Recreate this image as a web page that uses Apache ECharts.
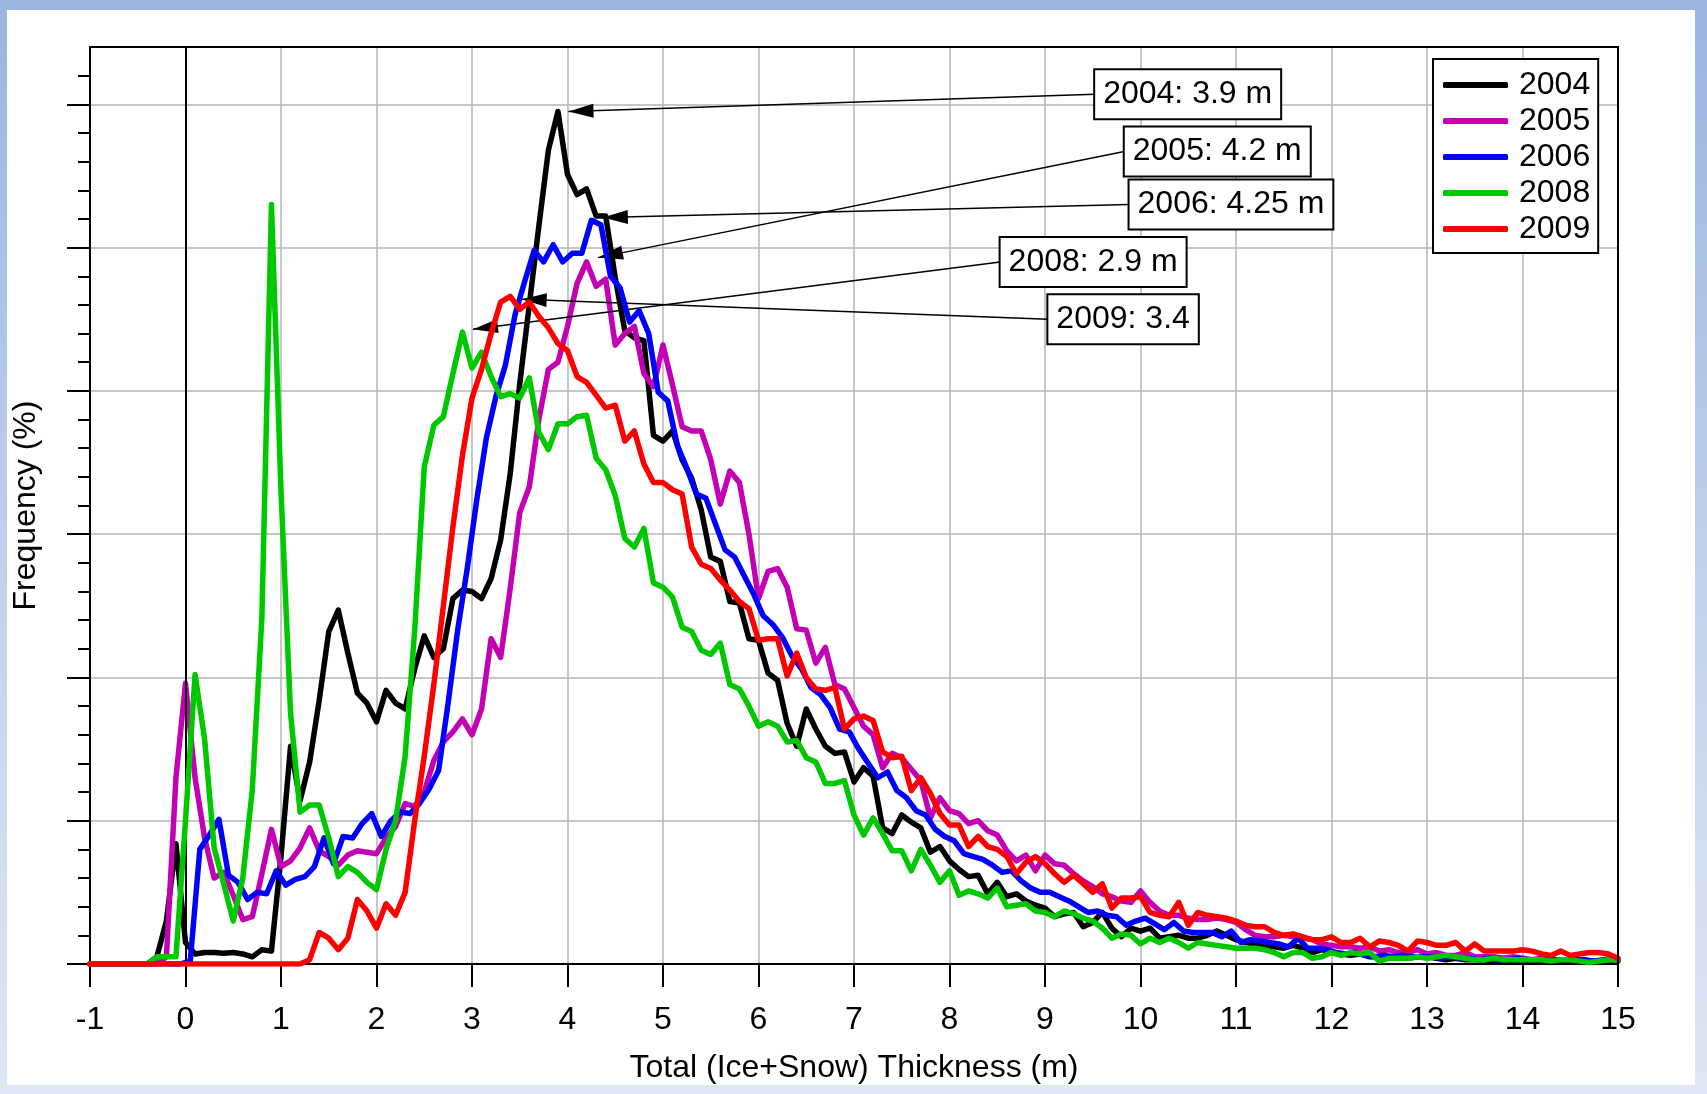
<!DOCTYPE html>
<html><head><meta charset="utf-8">
<script src="https://cdn.jsdelivr.net/npm/echarts@6/dist/echarts.min.js"></script>
<style>
html,body{margin:0;padding:0;}
body{width:1707px;height:1094px;position:relative;overflow:hidden;background:linear-gradient(180deg,#9ab4e0 0%,#bfd0ec 50%,#dfe7f4 100%);}
#panel{position:absolute;left:7px;top:10px;width:1688px;height:1075px;background:#fff;}
#chart{position:absolute;left:0;top:0;width:1707px;height:1094px;}
</style></head><body><div id="panel"></div><div id="chart"></div>
<script>
// ---------------- data ----------------
const years = ['2004', '2005', '2006', '2008', '2009'];
const binStartA = -1.0;   // bin centres for 2004, 2005, 2008, 2009
const binStartB = -0.95;  // bin centres for 2006
const binWidth = 0.1;

const freq2004 = [
 0,0,0,0,0,0,0,0.05,0.3,0.84,
 0.15,0.07,0.08,0.08,0.075,0.08,0.07,0.05,0.1,0.09,
 0.75,1.52,1.14,1.41,1.84,2.32,2.47,2.17,1.89,1.82,
 1.69,1.91,1.82,1.78,2.06,2.29,2.14,2.2,2.55,2.61,
 2.6,2.55,2.69,2.96,3.42,4.05,4.6,5.15,5.68,5.95,
 5.51,5.37,5.41,5.22,5.22,4.79,4.42,4.37,4.35,3.69,
 3.65,3.72,3.52,3.39,3.17,2.84,2.81,2.53,2.52,2.27,
 2.26,2.03,1.98,1.68,1.52,1.78,1.64,1.52,1.47,1.48,
 1.27,1.37,1.31,0.95,0.91,1.04,0.99,0.95,0.78,0.82,
 0.72,0.66,0.61,0.62,0.49,0.57,0.47,0.49,0.44,0.41,
 0.39,0.33,0.35,0.36,0.26,0.29,0.36,0.25,0.19,0.25,
 0.23,0.25,0.18,0.19,0.2,0.18,0.18,0.2,0.23,0.2,
 0.17,0.15,0.14,0.13,0.12,0.11,0.13,0.11,0.08,0.1,
 0.08,0.07,0.06,0.07,0.05,0.05,0.04,0.05,0.04,0.05,
 0.05,0.04,0.03,0.04,0.03,0.03,0.03,0.02,0.03,0.02,
 0.03,0.02,0.02,0.03,0.02,0.02,0.02,0.02,0.02,0.03,
 0.02];

const freq2005 = [
 0,0,0,0,0,0,0,0,0.05,1.3,
 1.96,1.3,0.88,0.6,0.64,0.48,0.31,0.33,0.63,0.94,
 0.68,0.72,0.81,0.95,0.79,0.75,0.69,0.76,0.79,0.78,
 0.77,0.88,0.96,1.12,1.1,1.2,1.42,1.55,1.62,1.71,
 1.6,1.78,2.27,2.14,2.62,3.15,3.33,3.8,4.15,4.2,
 4.45,4.75,4.9,4.73,4.78,4.32,4.4,4.45,4.12,4.03,
 4.32,4.04,3.75,3.72,3.72,3.52,3.21,3.44,3.36,3.0,
 2.55,2.74,2.76,2.63,2.34,2.33,2.1,2.21,1.95,1.92,
 1.79,1.66,1.6,1.37,1.47,1.44,1.36,1.28,1.02,1.16,
 1.07,1.05,0.98,1.0,0.93,0.9,0.79,0.72,0.76,0.65,
 0.76,0.7,0.69,0.63,0.58,0.54,0.49,0.47,0.44,0.43,
 0.51,0.43,0.37,0.34,0.34,0.32,0.31,0.31,0.32,0.31,
 0.29,0.24,0.2,0.19,0.19,0.2,0.19,0.18,0.17,0.14,
 0.13,0.12,0.12,0.11,0.12,0.09,0.1,0.08,0.08,0.1,
 0.07,0.08,0.06,0.06,0.08,0.05,0.05,0.05,0.04,0.05,
 0.04,0.03,0.04,0.03,0.03,0.03,0.03,0.02,0.02,0.03,
 0.02];

const freq2006 = [
 0,0,0,0,0,0,0,0,0,0,
 0.02,0.8,0.9,1.01,0.62,0.57,0.45,0.5,0.49,0.65,
 0.55,0.59,0.61,0.68,0.88,0.7,0.89,0.88,0.98,1.05,
 0.89,1.0,1.06,1.05,1.12,1.22,1.35,1.82,2.33,2.76,
 3.24,3.67,3.96,4.18,4.53,4.76,4.98,4.9,5.02,4.9,
 4.96,4.96,5.19,5.16,4.8,4.72,4.48,4.56,4.4,3.99,
 3.93,3.62,3.46,3.28,3.25,3.07,2.89,2.84,2.71,2.58,
 2.43,2.37,2.28,2.15,2.06,1.93,1.88,1.79,1.64,1.62,
 1.5,1.4,1.3,1.34,1.21,1.16,1.07,1.04,0.94,0.89,
 0.86,0.77,0.75,0.73,0.69,0.64,0.65,0.58,0.53,0.5,
 0.5,0.47,0.44,0.4,0.36,0.37,0.34,0.33,0.27,0.3,
 0.32,0.28,0.24,0.29,0.23,0.22,0.22,0.22,0.19,0.23,
 0.15,0.17,0.16,0.15,0.14,0.12,0.18,0.11,0.11,0.1,
 0.08,0.07,0.08,0.06,0.05,0.06,0.05,0.06,0.05,0.05,
 0.05,0.04,0.05,0.04,0.04,0.03,0.04,0.03,0.03,0.04,
 0.03,0.03,0.04,0.03,0.03,0.03,0.03,0.02,0.03,0.04];

const freq2008 = [
 0,0,0,0,0,0,0,0.05,0.05,0.05,
 1.0,2.02,1.57,0.81,0.56,0.3,0.6,1.22,2.42,5.3,
 3.3,1.75,1.06,1.11,1.11,0.88,0.61,0.68,0.64,0.57,
 0.52,0.8,1.0,1.45,2.33,3.47,3.76,3.82,4.12,4.41,
 4.16,4.27,4.1,3.96,3.98,3.95,4.09,3.71,3.59,3.77,
 3.77,3.82,3.83,3.53,3.45,3.27,2.97,2.91,3.04,2.66,
 2.63,2.56,2.35,2.32,2.19,2.16,2.24,1.95,1.92,1.8,
 1.66,1.69,1.66,1.55,1.56,1.44,1.41,1.26,1.26,1.28,
 1.04,0.9,1.02,0.91,0.79,0.79,0.65,0.8,0.69,0.57,
 0.65,0.48,0.51,0.49,0.46,0.53,0.4,0.41,0.42,0.37,
 0.36,0.33,0.37,0.35,0.32,0.3,0.25,0.18,0.21,0.2,
 0.14,0.18,0.15,0.18,0.15,0.11,0.15,0.14,0.13,0.12,
 0.11,0.11,0.11,0.1,0.08,0.05,0.08,0.08,0.04,0.05,
 0.08,0.06,0.08,0.07,0.08,0.02,0.04,0.04,0.04,0.05,
 0.04,0.05,0.06,0.05,0.04,0.03,0.03,0.04,0.03,0.03,
 0.03,0.03,0.03,0.02,0.03,0.03,0.02,0.01,0.02,0.03,
 0.03];

const freq2009 = [
 0,0,0,0,0,0,0,0,0,0,
 0,0,0,0,0,0,0,0,0,0,
 0,0,0,0.03,0.22,0.18,0.1,0.18,0.45,0.37,
 0.25,0.42,0.34,0.5,1.0,1.45,1.95,2.5,3.05,3.55,
 3.95,4.15,4.4,4.62,4.66,4.57,4.62,4.52,4.44,4.33,
 4.28,4.1,4.06,3.97,3.88,3.9,3.65,3.72,3.49,3.36,
 3.36,3.31,3.28,2.91,2.79,2.76,2.68,2.61,2.53,2.48,
 2.26,2.27,2.27,2.01,2.17,2.0,1.92,1.91,1.93,1.64,
 1.71,1.73,1.7,1.48,1.44,1.45,1.21,1.3,1.19,1.05,
 0.97,0.97,0.82,0.89,0.82,0.8,0.75,0.63,0.71,0.75,
 0.7,0.63,0.57,0.62,0.56,0.5,0.56,0.39,0.46,0.46,
 0.47,0.36,0.34,0.33,0.43,0.27,0.36,0.34,0.33,0.32,
 0.3,0.27,0.26,0.26,0.22,0.2,0.21,0.19,0.17,0.17,
 0.19,0.15,0.15,0.18,0.12,0.16,0.15,0.13,0.09,0.16,
 0.15,0.13,0.13,0.15,0.09,0.14,0.09,0.09,0.09,0.09,
 0.1,0.09,0.07,0.06,0.09,0.06,0.07,0.08,0.08,0.07,
 0.04];

// annotations: label text, box anchor (left-middle of box), arrow tip (data coords)
const noteText = ['2004: 3.9 m', '2005: 4.2 m', '2006: 4.25 m', '2008: 2.9 m', '2009: 3.4'];
const noteBoxAt = [[9.52, 6.07], [9.83, 5.67], [9.88, 5.30], [8.53, 4.90], [9.03, 4.50]];
const noteTip = [[4.01, 5.95], [4.32, 4.93], [4.37, 5.21], [3.01, 4.43], [3.52, 4.64]];

const xTickLabels = ['-1','0','1','2','3','4','5','6','7','8','9','10','11','12','13','14','15'];

// ---------------- chart ----------------
const FONT = "'Liberation Sans', Arial, Helvetica, sans-serif";
const colors = ['#000000', '#c400b4', '#0000ff', '#00c800', '#ff0000'];
const LINE_W = 5.5;

function toPairs(start, vals) {
  return vals.map((v, i) => [Math.round((start + i * binWidth) * 100) / 100, v]);
}
const seriesValues = [
  toPairs(binStartA, freq2004),
  toPairs(binStartA, freq2005),
  toPairs(binStartB, freq2006),
  toPairs(binStartA, freq2008),
  toPairs(binStartA, freq2009)
];

const series = years.map((y, i) => {
  const s = {
    name: y, type: 'line', data: seriesValues[i],
    symbol: 'none', showSymbol: false,
    lineStyle: { color: colors[i], width: LINE_W, join: 'round', cap: 'round' },
    itemStyle: { color: colors[i] },
    emphasis: { disabled: true },
    z: 3 + i, animation: false, silent: true
  };
  if (i === 0) {
    s.markLine = {
      silent: true, symbol: ['none', 'none'], animation: false,
      label: { show: false },
      lineStyle: { color: '#000', width: 2, type: 'solid' },
      emphasis: { disabled: true },
      data: [{ xAxis: 0 }]
    };
  }
  return s;
});

series.push({
  name: 'notes', type: 'line', data: [], z: 20, animation: false, silent: true,
  markLine: {
    silent: true, animation: false,
    symbol: ['none', 'triangle'],
    symbolSize: [14, 25],
    symbolOffset: [0, [0, 12.5]],
    label: { show: false },
    emphasis: { disabled: true },
    lineStyle: { color: '#000', width: 1.5, type: 'solid' },
    itemStyle: { color: '#000' },
    data: noteText.map((t, i) => [{ coord: noteBoxAt[i] }, { coord: noteTip[i] }])
  },
  markPoint: {
    silent: true, animation: false,
    symbol: 'rect', symbolSize: 1,
    itemStyle: { color: 'rgba(0,0,0,0)' },
    emphasis: { disabled: true },
    label: {
      show: true, position: 'right', distance: 0,
      formatter: '{b}', color: '#000', fontSize: 32, fontFamily: FONT,
      backgroundColor: '#fff', borderColor: '#000', borderWidth: 2,
      padding: [8, 8, 8, 8]
    },
    data: noteText.map((t, i) => ({ name: t, coord: noteBoxAt[i] }))
  }
});

const chart = echarts.init(document.getElementById('chart'), null, { renderer: 'canvas' });
chart.setOption({
  animation: false,
  backgroundColor: 'transparent',
  textStyle: { fontFamily: FONT },
  grid: { left: 90, right: 89, top: 47, bottom: 130, show: false },
  legend: {
    data: years.map((y, i) => ({ name: y, icon: 'roundRect', itemStyle: { color: colors[i] } })),
    orient: 'vertical', left: 1433, top: 59,
    itemWidth: 65, itemHeight: 6, itemGap: 4,
    padding: [10, 8, 8, 10],
    backgroundColor: '#fff', borderColor: '#000', borderWidth: 2,
    textStyle: { fontSize: 32, color: '#000', fontFamily: FONT, padding: [0, 0, 0, 6] },
    selectedMode: false
  },
  xAxis: [{
    type: 'value', min: -1, max: 15, interval: 1,
    axisLine: { show: true, onZero: false, lineStyle: { color: '#000', width: 2 } },
    axisTick: { show: true, length: 23, lineStyle: { color: '#000', width: 2 } },
    axisLabel: { show: true, fontSize: 32, color: '#000', margin: 40, fontFamily: FONT,
      formatter: (v) => xTickLabels[Math.round(v) + 1] },
    splitLine: { show: true, lineStyle: { color: '#b4b4b4', width: 1.5 } },
    name: 'Total (Ice+Snow) Thickness (m)', nameLocation: 'middle', nameGap: 88,
    nameTextStyle: { fontSize: 32, color: '#000', fontFamily: FONT }
  }, {
    type: 'value', min: -1, max: 15, position: 'top', z: 10,
    axisLine: { show: true, onZero: false, lineStyle: { color: '#000', width: 2 } },
    axisTick: { show: false }, axisLabel: { show: false }, splitLine: { show: false }
  }],
  yAxis: [{
    type: 'value', min: 0, max: 6.4, interval: 1,
    axisLine: { show: true, onZero: false, lineStyle: { color: '#000', width: 2 } },
    axisTick: { show: true, length: 23, lineStyle: { color: '#000', width: 2 }, customValues: [0, 1, 2, 3, 4, 5, 6] },
    minorTick: { show: true, splitNumber: 5, length: 12, lineStyle: { color: '#000', width: 2 } },
    axisLabel: { show: false },
    splitLine: { show: true, lineStyle: { color: '#b4b4b4', width: 1.5 } },
    name: 'Frequency (%)', nameLocation: 'middle', nameGap: 48,
    nameTextStyle: { fontSize: 32, color: '#000', fontFamily: FONT }
  }, {
    type: 'value', min: 0, max: 6.4, position: 'right', z: 10,
    axisLine: { show: true, onZero: false, lineStyle: { color: '#000', width: 2 } },
    axisTick: { show: false }, axisLabel: { show: false }, splitLine: { show: false }
  }],
  series: series
});
</script></body></html>
